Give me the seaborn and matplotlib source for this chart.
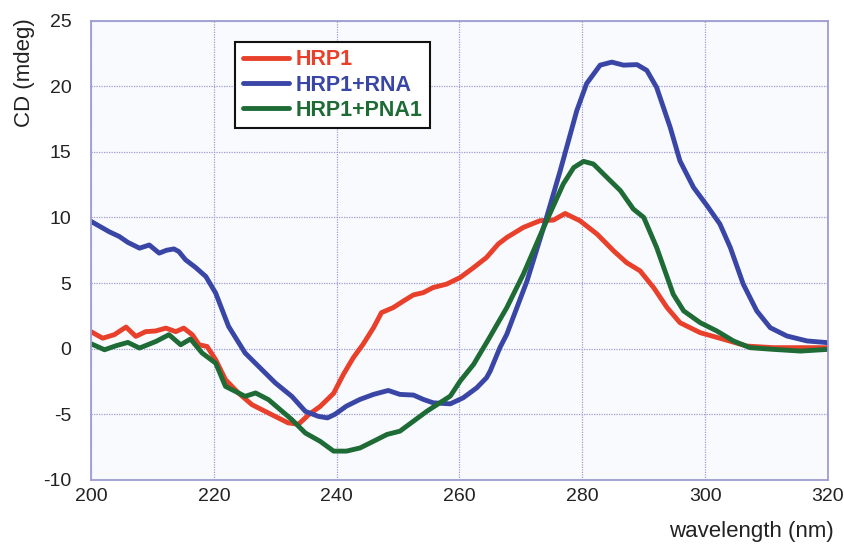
import numpy as np
import pandas as pd
import matplotlib
matplotlib.use("Agg")
import matplotlib.pyplot as plt
import seaborn as sns

series_names = ["HRP1", "HRP1+RNA", "HRP1+PNA1"]
series_colors = ["#e8402a", "#3a46a6", "#1e6b36"]

hrp1_x = [200, 201.9, 203.8, 205.7, 207.3, 208.9, 210.5, 212.2, 213.8, 215.1, 216.5, 217.6,
          218.9, 220.3, 221.9, 224.0, 226.2, 228.9, 232.1, 233.8, 235.5, 237.3, 239.5, 241.1,
          242.7, 244.3, 246.0, 247.3, 249.2, 250.9, 252.5, 254.1, 255.7, 257.9, 260.1, 262.3,
          264.4, 266.3, 267.7, 270.4, 273.1, 275.3, 277.2, 279.6, 282.4, 285.1, 287.2, 289.4,
          291.6, 293.8, 295.9, 299.2, 303.0, 306.8, 311.1, 315.5, 320]
hrp1_y = [1.3, 0.8, 1.07, 1.65, 0.94, 1.3, 1.35, 1.57, 1.3, 1.57, 1.06, 0.3,
          0.17, -0.84, -2.36, -3.37, -4.26, -4.9, -5.65, -5.75, -5.0, -4.4, -3.4, -1.95,
          -0.69, 0.34, 1.6, 2.75, 3.13, 3.64, 4.1, 4.27, 4.66, 4.92, 5.42, 6.18,
          6.95, 7.97, 8.47, 9.24, 9.75, 9.8, 10.3, 9.75, 8.73, 7.45, 6.56, 5.93,
          4.66, 3.13, 1.98, 1.22, 0.72, 0.2, 0.08, 0.08, 0.08]

rna_x = [200, 201.5, 203, 204.6, 206, 207.9, 209.5, 211.1, 212.3, 213.5, 214.3, 215.4,
         217, 218.7, 220.3, 222.4, 225.1, 227.3, 230.0, 232.7, 234.9, 237.0, 238.5, 239.7,
         241.6, 243.8, 246.0, 248.4, 250.3, 252.5, 254.1, 255.7, 258.5, 260.6, 262.8, 264.4,
         265.0, 266.6, 267.7, 271.0, 273.7, 276.4, 279.1, 280.7, 282.9, 284.8, 286.7, 288.9,
         290.5, 292.1, 294.3, 295.9, 298.1, 300.3, 302.4, 304.1, 306.2, 308.4, 310.6, 313.3,
         316.6, 320]
rna_y = [9.7, 9.3, 8.9, 8.55, 8.1, 7.66, 7.9, 7.28, 7.5, 7.6, 7.4, 6.77,
         6.2, 5.5, 4.24, 1.7, -0.33, -1.35, -2.6, -3.63, -4.77, -5.15, -5.27, -5.0,
         -4.37, -3.86, -3.48, -3.18, -3.48, -3.53, -3.86, -4.12, -4.2, -3.74, -2.98, -2.21,
         -1.7, 0.1, 1.1, 5.17, 9.24, 13.56, 18.14, 20.2, 21.6, 21.83, 21.6, 21.64,
         21.2, 19.9, 16.87, 14.3, 12.29, 10.9, 9.5, 7.7, 4.92, 2.88, 1.6, 0.97,
         0.59, 0.46]

pna_x = [200, 202.2, 204.1, 206.0, 207.9, 210.6, 212.7, 214.6, 216.2, 218.1, 220.3, 221.9,
         225.1, 226.8, 228.9, 232.7, 234.9, 237.3, 239.5, 241.6, 243.8, 246.0, 248.2, 250.3,
         252.5, 254.7, 256.8, 258.5, 260.1, 262.3, 264.7, 267.7, 270.4, 273.7, 276.9, 278.6,
         280.2, 281.8, 284.0, 286.2, 288.3, 290.0, 292.1, 294.8, 296.5, 299.2, 301.9, 304.6,
         307.3, 311.1, 315.5, 320]
pna_y = [0.38, -0.08, 0.23, 0.48, 0.05, 0.56, 1.07, 0.3, 0.74, -0.33, -1.1, -2.87,
         -3.63, -3.37, -3.88, -5.4, -6.42, -7.05, -7.8, -7.8, -7.56, -7.05, -6.53, -6.28,
         -5.52, -4.76, -4.12, -3.61, -2.47, -1.19, 0.7, 3.13, 5.68, 9.24, 12.55, 13.8,
         14.27, 14.07, 13.05, 12.04, 10.64, 10.0, 7.71, 4.15, 2.88, 1.98, 1.35, 0.59,
         0.08, -0.05, -0.18, -0.05]

x_ticks = [200, 220, 240, 260, 280, 300, 320]
y_ticks = [-10, -5, 0, 5, 10, 15, 20, 25]

df = pd.concat([
    pd.DataFrame({"wavelength": hrp1_x, "cd": hrp1_y, "sample": series_names[0]}),
    pd.DataFrame({"wavelength": rna_x, "cd": rna_y, "sample": series_names[1]}),
    pd.DataFrame({"wavelength": pna_x, "cd": pna_y, "sample": series_names[2]}),
], ignore_index=True)

sns.set_style("white")
plt.rcParams["font.family"] = ["Liberation Sans", "DejaVu Sans"]

fig = plt.figure(figsize=(8.45, 5.46), dpi=100)
ax = fig.add_axes([91 / 845, 1 - 480 / 546, (828 - 91) / 845, (480 - 20.5) / 546])
ax.set_facecolor("#f9fafe")

sns.lineplot(data=df, x="wavelength", y="cd", hue="sample", hue_order=series_names,
             palette=series_colors, estimator=None, sort=False, linewidth=3.5, ax=ax)

ax.set_xlim(200, 320)
ax.set_ylim(-10, 25)
ax.set_xticks(x_ticks)
ax.set_yticks(y_ticks)
ax.set_xticklabels([str(t) for t in x_ticks])
ax.set_yticklabels([str(t) for t in y_ticks])
ax.grid(True, color="#9d9dd2", linestyle=(0, (1, 1)), linewidth=0.9)
ax.set_axisbelow(True)
for s in ax.spines.values():
    s.set_color("#9d9dd2")
    s.set_linewidth(1.3)
ax.tick_params(axis="both", direction="in", length=4, color="#9d9dd2",
               labelsize=14, labelcolor="#222222")
ax.tick_params(axis="y", pad=14)
ax.tick_params(axis="x", pad=6)
ax.set_xlabel("")
ax.set_ylabel("")

fig.text(25 / 845, 1 - 73 / 546, "CD (mdeg)", rotation=90, ha="center", va="center",
         fontsize=16, color="#222222")
fig.text(834 / 845, 1 - 531 / 546, "wavelength (nm)", ha="right", va="center",
         fontsize=16, color="#222222")

handles, labels = ax.get_legend_handles_labels()
leg = ax.legend(handles, labels, loc="upper left",
                bbox_to_anchor=(235 / 845, 1 - 41.7 / 546), bbox_transform=fig.transFigure,
                borderaxespad=0,
                frameon=True, fancybox=False, edgecolor="#111111", facecolor="white",
                framealpha=1, handlelength=2.15, handletextpad=0.3,
                labelspacing=0.2, borderpad=0.35, prop={"weight": "bold", "size": 15.5})
leg.get_frame().set_linewidth(1.5)
for txt, c in zip(leg.get_texts(), series_colors):
    txt.set_color(c)
for h in leg.get_lines():
    h.set_linewidth(3.5)

fig.savefig("out.png", dpi=100)
